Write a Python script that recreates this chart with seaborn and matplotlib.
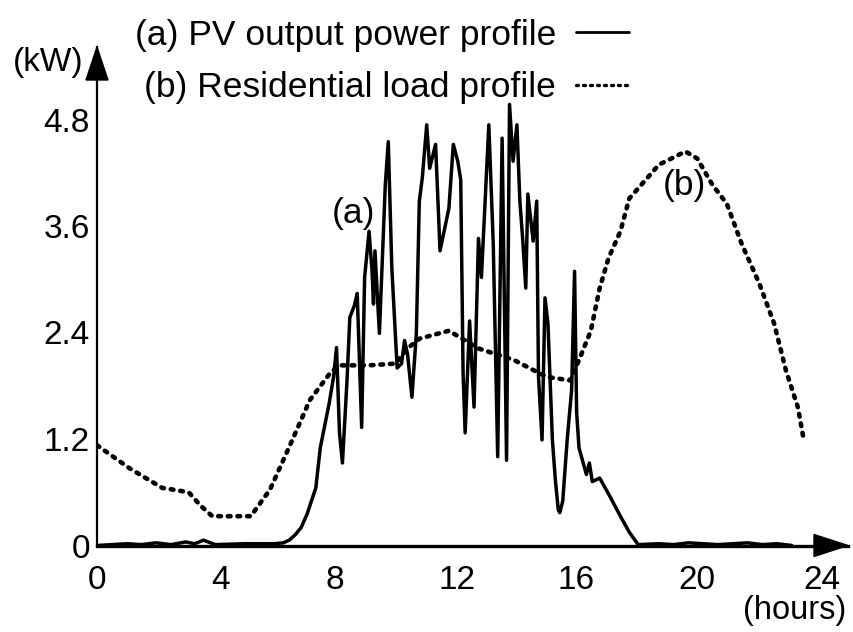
import matplotlib
matplotlib.use("Agg")
import matplotlib.pyplot as plt
from matplotlib.patches import Polygon
from matplotlib.transforms import ScaledTranslation
import seaborn as sns
import pandas as pd

# ---- data ----
pv_hours = [0, 0.5, 1.0, 1.5, 2.0, 2.5, 3.0, 3.3, 3.6, 4.0, 5.0, 6.0, 6.3, 6.5, 6.7, 6.9, 7.1, 7.2,
            7.4, 7.55, 7.7, 7.85, 8.0, 8.1, 8.2, 8.3, 8.45, 8.55, 8.7, 8.8, 8.95, 9.05, 9.2, 9.3,
            9.35, 9.4, 9.55, 9.75, 9.85, 9.97, 10.15, 10.3, 10.4, 10.5, 10.65, 10.8, 10.9, 11.0,
            11.15, 11.25, 11.45, 11.6, 11.9, 12.05, 12.2, 12.3, 12.38, 12.45, 12.6, 12.75, 12.9,
            13.0, 13.25, 13.4, 13.55, 13.7, 13.85, 13.95, 14.07, 14.2, 14.3, 14.4, 14.5, 14.57,
            14.75, 14.87, 14.93, 15.05, 15.15, 15.25, 15.4, 15.5, 15.6, 15.65, 15.75, 15.9, 16.05,
            16.15, 16.22, 16.3, 16.55, 16.65, 16.75, 17.0, 17.35, 17.7, 18.0, 18.3, 19.0, 19.5,
            20.0, 20.5, 21.0, 21.5, 22.0, 22.5, 23.0, 23.5]
pv_kw = [0.0, 0.01, 0.02, 0.01, 0.03, 0.01, 0.04, 0.02, 0.06, 0.01, 0.02, 0.02, 0.03, 0.06, 0.12,
         0.2, 0.35, 0.45, 0.65, 1.1, 1.35, 1.6, 1.9, 2.23, 1.27, 0.93, 1.83, 2.57, 2.7, 2.84, 1.33,
         3.02, 3.54, 3.1, 2.72, 3.32, 2.39, 4.07, 4.55, 3.13, 2.0, 2.05, 2.31, 2.16, 1.67, 2.39,
         3.88, 4.14, 4.74, 4.25, 4.52, 3.32, 3.8, 4.52, 4.33, 4.12, 1.94, 1.27, 2.53, 1.56, 3.46,
         3.02, 4.74, 3.4, 1.0, 4.59, 0.96, 4.97, 4.33, 4.74, 3.88, 3.43, 2.9, 3.96, 3.43, 3.88,
         1.9, 1.19, 2.79, 2.5, 1.19, 0.74, 0.4, 0.37, 0.5, 1.19, 1.75, 3.09, 1.5, 1.1, 0.8, 0.93,
         0.72, 0.76, 0.55, 0.33, 0.15, 0.01, 0.02, 0.01, 0.03, 0.02, 0.01, 0.02, 0.03, 0.01, 0.02,
         0.0]

load_hours = [0, 1.1, 2.2, 3.1, 3.5, 3.9, 4.5, 5.2, 5.85, 6.5, 7.2, 7.9, 8.2, 9.2, 10.1, 10.5,
              10.9, 11.9, 12.9, 14.1, 15.2, 16.0, 16.3, 16.7, 17.0, 17.3, 17.7, 18.0, 18.5, 19.0,
              19.9, 20.3, 20.8, 21.3, 21.8, 22.4, 22.9, 23.3, 23.7, 23.9]
load_kw = [1.13, 0.87, 0.65, 0.6, 0.45, 0.33, 0.33, 0.33, 0.63, 1.11, 1.64, 1.95, 2.03, 2.03,
           2.05, 2.22, 2.33, 2.42, 2.22, 2.09, 1.9, 1.86, 2.09, 2.42, 2.9, 3.24, 3.54, 3.91, 4.10,
           4.29, 4.44, 4.36, 4.07, 3.85, 3.40, 2.95, 2.50, 1.97, 1.56, 1.19]

x_ticks = [0, 4, 8, 12, 16, 20, 24]
y_ticks = [0, 1.2, 2.4, 3.6, 4.8]
y_tick_labels = ["0", "1.2", "2.4", "3.6", "4.8"]
label_a = "(a) PV output power profile"
label_b = "(b) Residential load profile"

# ---- style ----
sns.set_style("white")
plt.rcParams["font.family"] = ["Liberation Sans", "DejaVu Sans"]
plt.rcParams["text.color"] = "black"
plt.rcParams["xtick.color"] = "black"
plt.rcParams["ytick.color"] = "black"
plt.rcParams["axes.labelcolor"] = "black"
FS = 25.5
TFS = 24

TOP = 47      # pixel row of the y-arrow tip
Y0 = 545.5    # pixel row of y = 0
fig = plt.figure(figsize=(8.54, 6.32), dpi=100)
ax = fig.add_axes([97 / 854, (632 - Y0) / 632, (848 - 97) / 854, (Y0 - TOP) / 632])

pv_df = pd.DataFrame({"hours": pv_hours, "kW": pv_kw})
load_df = pd.DataFrame({"hours": load_hours, "kW": load_kw})

sns.lineplot(data=pv_df, x="hours", y="kW", ax=ax, color="black", lw=2.5,
             label=label_a, sort=False)
sns.lineplot(data=load_df, x="hours", y="kW", ax=ax, color="black", lw=3.3,
             linestyle=(0, (0.6, 1.5)), dash_capstyle="round", label=label_b, sort=False)

px_per_h = (806.7 - 97) / 24
ax.set_xlim(0, (848 - 97) / px_per_h)
px_per_kw = (Y0 - 119.5) / 4.8
ax.set_ylim(0, (Y0 - TOP) / px_per_kw)

ax.set_xticks(x_ticks)
ax.set_xticklabels([str(t) for t in x_ticks], fontsize=TFS)
ax.set_yticks(y_ticks)
ax.set_yticklabels(y_tick_labels, fontsize=TFS)
ax.tick_params(axis="x", direction="in", length=8, width=1.8, pad=14)
ax.tick_params(axis="y", direction="out", length=4, width=1.5, pad=1)
ax.set_xlabel("")
ax.set_ylabel("")

# slight rightward drift of the x tick labels seen in the reference
shifts_px = [0, 5, 1, 5, 6, 8, 15]
for lab, sh in zip(ax.get_xticklabels(), shifts_px):
    lab.set_transform(lab.get_transform() + ScaledTranslation(sh / 100, 0, fig.dpi_scale_trans))

for s in ["top", "right"]:
    ax.spines[s].set_visible(False)
for s in ["left", "bottom"]:
    ax.spines[s].set_color("black")
ax.spines["left"].set_linewidth(1.6)
ax.spines["bottom"].set_linewidth(2.4)

# axis arrows
xmax = ax.get_xlim()[1]
ymax = ax.get_ylim()[1]
xa = Polygon([[xmax, 0], [xmax - 34 / px_per_h, 11 / px_per_kw],
              [xmax - 34 / px_per_h, -11 / px_per_kw]], closed=True,
             color="black", clip_on=False, zorder=5)
ya = Polygon([[0, ymax], [-11 / px_per_h, ymax - 33 / px_per_kw],
              [11 / px_per_h, ymax - 33 / px_per_kw]], closed=True,
             color="black", clip_on=False, zorder=5)
ax.add_patch(xa)
ax.add_patch(ya)

# annotations
ax.text(8.67, 3.74, "(a)", fontsize=FS, ha="center", va="center")
ax.text(19.85, 4.06, "(b)", fontsize=FS, ha="center", va="center")
fig.text(84 / 854, 1 - 63 / 632, "(kW)", fontsize=24, ha="right", va="center")
fig.text(846 / 854, 1 - 611 / 632, "(hours)", fontsize=23.5, ha="right", va="center")

leg = ax.legend(loc="upper left", bbox_to_anchor=(103 / 854, 1 + 13 / 632),
                bbox_transform=fig.transFigure, frameon=False, markerfirst=False,
                fontsize=FS, handlelength=1.5, labelspacing=0.55, handletextpad=0.55)
for h in leg.get_lines():
    h.set_linewidth(2.0)
leg.get_lines()[1].set_linewidth(2.4)

fig.savefig("out.png", dpi=100, facecolor="white")
